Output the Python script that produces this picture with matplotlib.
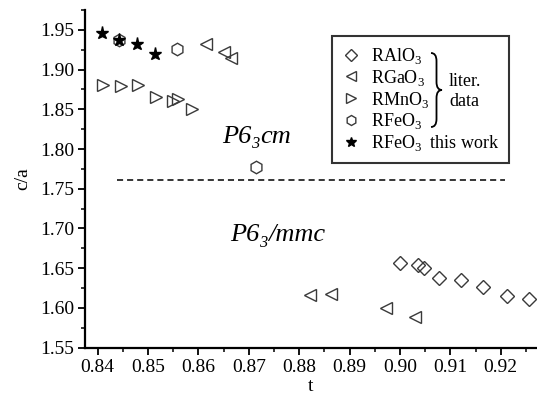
import matplotlib
matplotlib.use("Agg")
import matplotlib.pyplot as plt
from matplotlib.path import Path
from matplotlib.patches import PathPatch
from matplotlib.ticker import MultipleLocator, FormatStrFormatter
from matplotlib.transforms import offset_copy

plt.rcParams['font.family'] = ['Liberation Serif', 'DejaVu Serif']
plt.rcParams['mathtext.fontset'] = 'custom'
plt.rcParams['mathtext.rm'] = 'Liberation Serif'

# RAlO3 (literature)
al_t = [0.9000, 0.9036, 0.9048, 0.9077, 0.9121, 0.9164, 0.9213, 0.9256]
al_ca = [1.6566, 1.6537, 1.6496, 1.6378, 1.6357, 1.6265, 1.6150, 1.6110]
# RGaO3 (literature)
ga_t = [0.8616, 0.8651, 0.8664, 0.8821, 0.8863, 0.8972, 0.9029]
ga_ca = [1.9320, 1.9215, 1.9145, 1.6160, 1.6170, 1.6000, 1.5880]
# RMnO3 (literature)
mn_t = [0.8411, 0.8446, 0.8481, 0.8516, 0.8550, 0.8560, 0.8588]
mn_ca = [1.8810, 1.8797, 1.8800, 1.8650, 1.8610, 1.8630, 1.8500]
# RFeO3 (literature)
fe_t = [0.8443, 0.8558, 0.8714]
fe_ca = [1.9375, 1.9265, 1.7770]
# RFeO3 (this work)
tw_t = [0.8408, 0.8443, 0.8479, 0.8514]
tw_ca = [1.9460, 1.9375, 1.9320, 1.9200]
# phase boundary
boundary_ca = 1.7604
boundary_t = [0.8439, 0.9208]

fig = plt.figure(figsize=(5.37, 3.99), dpi=100)
ax = fig.add_axes([85/537, 1-347.6/399, 452/537, 337.6/399])

grey = '#3a3a3a'
ms = dict(markerfacecolor='none', markeredgecolor=grey, markeredgewidth=1.0, linestyle='none')
ax.plot(al_t, al_ca, marker='D', markersize=7.5, label='RAlO$_3$', **ms)
ax.plot(ga_t, ga_ca, marker='<', markersize=9, label='RGaO$_3$', **ms)
ax.plot(mn_t, mn_ca, marker='>', markersize=9, label='RMnO$_3$', **ms)
ax.plot(fe_t, fe_ca, marker='h', markersize=9, label='RFeO$_3$', **ms)
ax.plot(tw_t, tw_ca, marker='*', markersize=9.5, color='black', linestyle='none',
        label='RFeO$_3$  this work')

ax.plot(boundary_t, [boundary_ca, boundary_ca], color='black', linestyle=(0, (4, 2.6)), linewidth=1.1)

ax.set_xlim(0.8375, 0.92718)
ax.set_ylim(1.55, 1.975)
ax.xaxis.set_major_locator(MultipleLocator(0.01))
ax.xaxis.set_minor_locator(MultipleLocator(0.005))
ax.yaxis.set_major_locator(MultipleLocator(0.05))
ax.yaxis.set_minor_locator(MultipleLocator(0.025))
ax.xaxis.set_major_formatter(FormatStrFormatter('%.2f'))
ax.yaxis.set_major_formatter(FormatStrFormatter('%.2f'))
for s in ['top', 'right']:
    ax.spines[s].set_visible(False)
for s in ['left', 'bottom']:
    ax.spines[s].set_linewidth(1.6)
ax.tick_params(which='major', direction='out', length=5, width=1.3, labelsize=14, pad=3,
               labelfontfamily='Liberation Serif')
ax.tick_params(which='minor', direction='out', length=3, width=1.1)
ax.set_xlabel('t', fontsize=14, labelpad=2)
ax.set_ylabel('c/a', fontsize=14, labelpad=6)

leg = ax.legend(loc='upper left', bbox_to_anchor=((332-85)/452, (347.6-36)/337.6),
                frameon=True, fancybox=False, fontsize=13, handlelength=1.0,
                handletextpad=0.6, labelspacing=0.1, borderpad=0.55, borderaxespad=0,
                markerscale=0.8)
leg.get_frame().set_edgecolor('black')
leg.get_frame().set_linewidth(1.5)
leg.set_zorder(5)

def fx(px):
    return (px - 85) / 452
def fy(py):
    return (347.6 - py) / 337.6

# curly brace
x0, x1 = 431, 442
yt, yb = 53, 127
ym = (yt + yb) / 2
xm = (x0 + x1) / 2
verts = [
    (x0, yt), (xm, yt), (xm, yt + 8),
    (xm, ym - 8),
    (xm, ym), (x1, ym),
    (xm, ym), (xm, ym + 8),
    (xm, yb - 8),
    (xm, yb), (x0, yb),
]
codes = [Path.MOVETO,
         Path.CURVE3, Path.CURVE3,
         Path.LINETO,
         Path.CURVE3, Path.CURVE3,
         Path.CURVE3, Path.CURVE3,
         Path.LINETO,
         Path.CURVE3, Path.CURVE3]
verts = [(fx(a), fy(b)) for a, b in verts]
brace = PathPatch(Path(verts, codes), transform=ax.transAxes, facecolor='none',
                  edgecolor='black', linewidth=1.3, clip_on=False, zorder=10)
ax.add_patch(brace)
ax.text(fx(449), fy(82), 'liter.', fontsize=13, va='center', ha='left',
        transform=ax.transAxes, zorder=10)
ax.text(fx(449), fy(102), 'data', fontsize=13, va='center', ha='left',
        transform=ax.transAxes, zorder=10)

# italic space-group labels with subscripts
renderer = fig.canvas.get_renderer()
def formula(x, y, pieces, size=19):
    dx = 0.0
    for s, sub in pieces:
        fs = size * 0.62 if sub else size
        dy = -size * 0.22 if sub else 0.0
        tr = offset_copy(ax.transData, fig=fig, x=dx, y=dy, units='points')
        t = ax.text(x, y, s, fontsize=fs, fontstyle='italic', transform=tr,
                    ha='left', va='baseline')
        w = t.get_window_extent(renderer=renderer).width * 72 / fig.dpi
        dx += w
formula(0.8647, 1.808, [('P6', False), ('3', True), ('cm', False)])
formula(0.8663, 1.684, [('P6', False), ('3', True), ('/mmc', False)])

fig.savefig('out.png', dpi=100)
